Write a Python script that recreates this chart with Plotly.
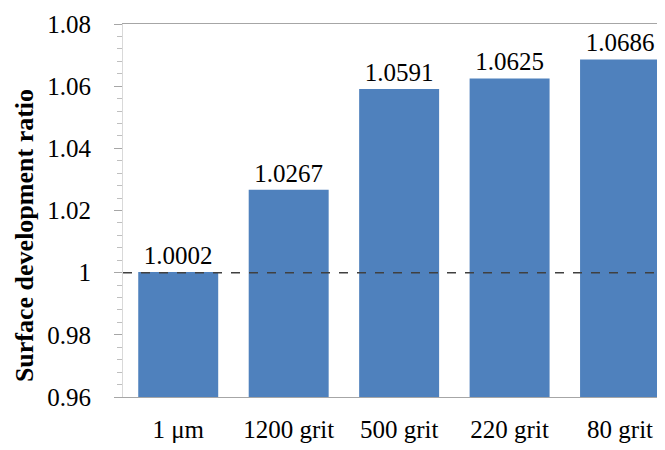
import plotly.graph_objects as go

categories = ["1 μm", "1200 grit", "500 grit", "220 grit", "80 grit"]
values = [1.0002, 1.0267, 1.0591, 1.0625, 1.0686]
value_labels = ["1.0002", "1.0267", "1.0591", "1.0625", "1.0686"]
y_ticks = [0.96, 0.98, 1.0, 1.02, 1.04, 1.06, 1.08]
y_tick_labels = ["0.96", "0.98", "1", "1.02", "1.04", "1.06", "1.08"]
reference_value = 1.0
y_title = "Surface development ratio"

FONT = "Liberation Serif, DejaVu Serif, serif"
BAR = "#4F81BD"
AXIS = "#a6a6a6"

fig = go.Figure()
fig.add_trace(go.Bar(
    x=list(range(len(categories))), y=values,
    marker=dict(color=BAR, line=dict(width=0)),
    text=value_labels, textposition="outside",
    textfont=dict(family=FONT, size=25, color="#000000"),
    cliponaxis=False,
))

fig.add_shape(type="line", xref="paper", yref="y", x0=0, x1=1,
              y0=reference_value, y1=reference_value,
              line=dict(color="#404040", width=1.5, dash="dash"))

fig.add_annotation(
    text="<b>" + y_title + "</b>", textangle=-90,
    xref="paper", yref="paper", x=-0.1827, y=0.434,
    xanchor="center", yanchor="middle", showarrow=False,
    font=dict(family=FONT, size=26, color="#000000"),
)

fig.update_layout(
    width=657, height=442,
    margin=dict(l=115, r=0, t=16, b=53),
    paper_bgcolor="white", plot_bgcolor="white",
    showlegend=False, bargap=0.276,
    font=dict(family=FONT, size=25, color="#000000"),
)
fig.update_xaxes(
    range=[-0.5, 4.407],
    tickmode="array", tickvals=list(range(len(categories))), ticktext=categories,
    showline=True, linecolor=AXIS, linewidth=1, mirror=True,
    ticks="", showgrid=False, zeroline=False,
    tickfont=dict(family=FONT, size=25), ticklabelstandoff=10,
)
fig.update_yaxes(
    range=[0.96, 1.08],
    tickmode="array", tickvals=y_ticks, ticktext=y_tick_labels,
    showline=True, linecolor="#d9d9d9", linewidth=1,
    ticks="outside", ticklen=8, tickcolor=AXIS,
    minor=dict(dtick=0.004, ticks="outside", ticklen=5, tickcolor="#bfbfbf"),
    showgrid=False, zeroline=False,
    tickfont=dict(family=FONT, size=25), ticklabelstandoff=18,
)

fig.write_html("out.html")
